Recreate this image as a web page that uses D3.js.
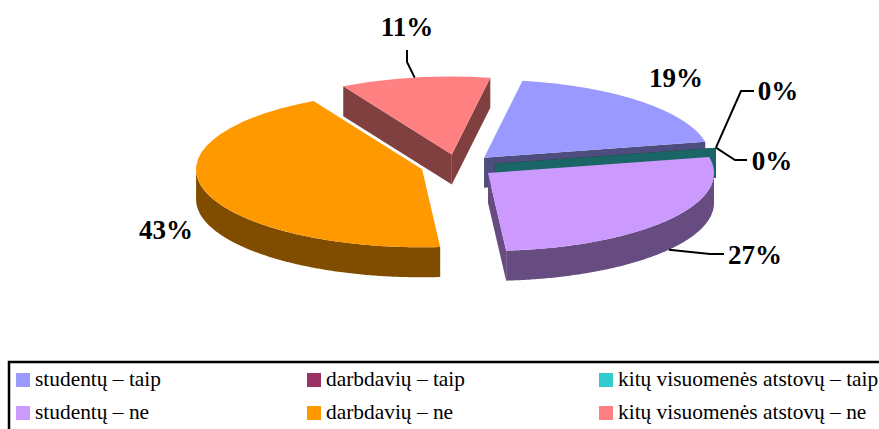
<!DOCTYPE html>
<html>
<head>
<meta charset="utf-8">
<script src="https://cdn.jsdelivr.net/npm/d3@7"></script>
<style>
    html, body { margin: 0; padding: 0; background: #fff; overflow: hidden; }
    svg { display: block; }
    .pct { font-family: "Liberation Serif", serif; font-weight: bold; font-size: 27px; fill: #000; }
    .leg { font-family: "Liberation Serif", serif; font-size: 21.4px; fill: #000; }
</style>
</head>
<body>
<svg id="chart" width="879" height="429"></svg>
<script>
// values, the labels show them rounded
const categories = ['studentų – taip', 'darbdavių – taip', 'kitų visuomenės atstovų – taip',
                    'studentų – ne', 'darbdavių – ne', 'kitų visuomenės atstovų – ne'];
const percents = [19, 0, 0, 27, 43.3, 10.7];
const topColors = ['#9999ff', '#993366', '#33cccc', '#cc99ff', '#ff9900', '#ff8080'];
const sideColors = ['#4d4d80', '#4d1a33', '#1a6666', '#664c80', '#804d00', '#804040'];

// back to front
const drawOrder = [4, 5, 0, 1, 2, 3];

const cx = 458, cy = 166, rx = 226, tilt = 0.345, depth = 30, explode = 37.5, explodeTilt = 0.31;
const deg = Math.PI / 180;

// label placement: text position and the elbow of the leader line
const labelSpots = [
    {x: 676, y: 87},
    {x: 778, y: 100, elbow: [[741, 91], [754, 91]]},
    {x: 772, y: 170, elbow: [[735, 160], [747, 160]]},
    {x: 755, y: 264, elbow: [[710, 254], [724, 254]], low: true},
    {x: 166, y: 239},
    {x: 407, y: 36, elbow: [[407, 62], [407, 50]]}
];

const svg = d3.select('#chart');

const pie = d3.pie().sort(null).value(d => d)
    .startAngle(9.8 * deg).endAngle(369.8 * deg);
const slices = pie(percents);

const arc = d3.arc().innerRadius(0).outerRadius(rx);
const line = d3.line();

function apexOf(s)
{
    let mid = (s.startAngle + s.endAngle) / 2;
    return [cx + explode * Math.sin(mid), cy - explode * Math.cos(mid) * explodeTilt];
}

function rimPoint(apex, a, dy)
{
    return [apex[0] + rx * Math.sin(a), apex[1] - rx * tilt * Math.cos(a) + (dy || 0)];
}

// flat wall from the apex out to the rim at angle a
function cutFace(apex, a)
{
    let p = rimPoint(apex, a);
    return line([apex, p, [p[0], p[1] + depth], [apex[0], apex[1] + depth]]) + 'Z';
}

// curved wall, only the front half of the ellipse can be seen
function rimFace(apex, a0, a1)
{
    let from = Math.max(a0, Math.PI / 2), to = Math.min(a1, Math.PI * 1.5);
    if(to <= from)
        return null;
    let angles = d3.range(from, to, 0.01).concat([to]);
    let upper = angles.map(a => rimPoint(apex, a));
    let lower = angles.slice().reverse().map(a => rimPoint(apex, a, depth));
    return line(upper.concat(lower)) + 'Z';
}

let pieG = svg.append('g');

drawOrder.forEach(function(i){
    let s = slices[i];
    let apex = apexOf(s);
    let g = pieG.append('g');

    // a wall shows when it faces the viewer
    if(Math.cos(s.startAngle - Math.PI / 2) < 0)
        g.append('path').attr('d', cutFace(apex, s.startAngle)).attr('fill', sideColors[i]);
    if(Math.cos(s.endAngle + Math.PI / 2) < 0)
        g.append('path').attr('d', cutFace(apex, s.endAngle)).attr('fill', sideColors[i]);

    let rim = rimFace(apex, s.startAngle, s.endAngle);
    if(rim)
        g.append('path').attr('d', rim).attr('fill', sideColors[i]);

    g.append('path')
        .attr('d', arc(s))
        .attr('transform', 'translate(' + apex[0] + ',' + apex[1] + ') scale(1,' + tilt + ')')
        .attr('fill', topColors[i]);
});

// percent labels
slices.forEach(function(s, i){
    let spot = labelSpots[i];
    if(spot.elbow)
    {
        let mid = (s.startAngle + s.endAngle) / 2;
        let start = rimPoint(apexOf(s), mid, spot.low ? depth : 0);
        svg.append('path')
            .attr('d', line([start].concat(spot.elbow)))
            .attr('fill', 'none')
            .attr('stroke', '#000')
            .attr('stroke-width', 2);
    }
    svg.append('text')
        .attr('class', 'pct')
        .attr('x', spot.x)
        .attr('y', spot.y)
        .attr('text-anchor', 'middle')
        .text(Math.round(percents[i]) + '%');
});

// legend, the frame runs off the right and bottom of the picture
svg.append('path')
    .attr('d', 'M9,429V362H879')
    .attr('fill', 'none')
    .attr('stroke', '#000')
    .attr('stroke-width', 2.5);

const legendX = d3.scaleOrdinal().domain([0, 1, 2]).range([16, 307, 599]);
const legendY = d3.scaleOrdinal().domain([0, 1]).range([373, 406]);

categories.forEach(function(name, i){
    let col = i % 3, row = Math.floor(i / 3);
    svg.append('rect')
        .attr('x', legendX(col))
        .attr('y', legendY(row))
        .attr('width', 14)
        .attr('height', 14)
        .attr('fill', topColors[i]);
    svg.append('text')
        .attr('class', 'leg')
        .attr('x', legendX(col) + 19)
        .attr('y', legendY(row) + 13)
        .text(name);
});
</script>
</body>
</html>
